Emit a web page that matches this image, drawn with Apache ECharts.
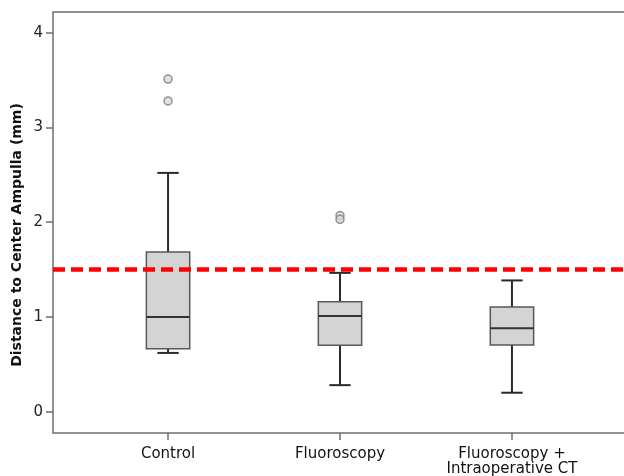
<!DOCTYPE html>
<html>
<head>
<meta charset="utf-8">
<script src="https://cdn.jsdelivr.net/npm/echarts@6/dist/echarts.min.js"></script>
<style>html,body{margin:0;padding:0;background:#fff}#c{width:624px;height:476px}</style>
</head>
<body>
<div id="c"></div>
<script>
// Data
const categories = ['Control', 'Fluoroscopy', 'Fluoroscopy +\nIntraoperative CT'];
const positions = [1, 2, 3];
// [min, Q1, median, Q3, max]
const boxMin = [0.62, 0.28, 0.20];
const boxQ1 = [0.665, 0.70, 0.705];
const boxMedian = [1.00, 1.01, 0.88];
const boxQ3 = [1.685, 1.16, 1.105];
const boxMax = [2.52, 1.465, 1.385];
const outliers = [[1, 3.51], [1, 3.28], [2, 2.07], [2, 2.03]];
const threshold = 1.5;
const yTicks = [0, 1, 2, 3, 4];
const yTitle = 'Distance to Center Ampulla (mm)';

const boxData = positions.map((p, i) => [p, boxMin[i], boxQ1[i], boxMedian[i], boxQ3[i], boxMax[i]]);

const chart = echarts.init(document.getElementById('c'));
const font = '"DejaVu Sans", "Noto Sans", sans-serif';

chart.setOption({
  animation: false,
  grid: { left: 53, top: 12, width: 574, height: 421, show: true, borderColor: '#6e6e6e', borderWidth: 1.5, backgroundColor: 'transparent', containLabel: false, outerBoundsMode: 'none' },
  graphic: [{
    type: 'text', x: 17, y: 235, rotation: Math.PI / 2,
    style: { text: yTitle, fontFamily: font, fontSize: 14, fontWeight: 'bold', fill: '#111', align: 'center', verticalAlign: 'middle' }
  }],
  xAxis: {
    type: 'value', min: 0.331, max: 3.669,
    splitLine: { show: false },
    axisLine: { show: false, onZero: false },
    axisTick: { show: true, inside: false, length: 7, lineStyle: { color: '#6e6e6e', width: 1.5 }, customValues: positions },
    axisLabel: {
      customValues: positions, margin: 14, color: '#111', fontFamily: font, fontSize: 15, lineHeight: 15,
      formatter: v => categories[positions.indexOf(Math.round(v))] || ''
    }
  },
  yAxis: {
    type: 'value', min: -0.225, max: 4.218,
    splitLine: { show: false },
    axisLine: { show: false, onZero: false },
    axisTick: { show: true, length: 7, lineStyle: { color: '#6e6e6e', width: 1.5 }, customValues: yTicks },
    axisLabel: { customValues: yTicks, margin: 10, color: '#222', fontFamily: font, fontSize: 15 }
  },
  series: [
    {
      type: 'custom',
      data: boxData,
      renderItem: function (params, api) {
        const x = api.value(0);
        const mn = api.coord([x, api.value(1)]);
        const q1 = api.coord([x, api.value(2)]);
        const md = api.coord([x, api.value(3)]);
        const q3 = api.coord([x, api.value(4)]);
        const mx = api.coord([x, api.value(5)]);
        const bl = api.coord([x - 0.126, 0])[0];
        const br = api.coord([x + 0.126, 0])[0];
        const cl = api.coord([x - 0.062, 0])[0];
        const cr = api.coord([x + 0.062, 0])[0];
        const cx = mn[0];
        const wStyle = { stroke: '#2a2a2a', lineWidth: 2 };
        return {
          type: 'group',
          children: [
            { type: 'line', shape: { x1: cx, y1: q3[1], x2: cx, y2: mx[1] }, style: wStyle },
            { type: 'line', shape: { x1: cx, y1: mn[1], x2: cx, y2: q1[1] }, style: wStyle },
            { type: 'line', shape: { x1: cl, y1: mx[1], x2: cr, y2: mx[1] }, style: wStyle },
            { type: 'line', shape: { x1: cl, y1: mn[1], x2: cr, y2: mn[1] }, style: wStyle },
            { type: 'rect', shape: { x: bl, y: q3[1], width: br - bl, height: q1[1] - q3[1] }, style: { fill: '#d4d4d4', stroke: '#585858', lineWidth: 1.5 } },
            { type: 'line', shape: { x1: bl, y1: md[1], x2: br, y2: md[1] }, style: { stroke: '#333', lineWidth: 2 } }
          ]
        };
      },
      z: 2
    },
    {
      type: 'scatter',
      data: outliers,
      symbol: 'circle', symbolSize: 8,
      itemStyle: { color: '#d8d8d8', borderColor: '#7a7a7a', borderWidth: 1.5 },
      z: 3
    },
    {
      type: 'line',
      data: [],
      markLine: {
        silent: true, symbol: 'none', label: { show: false },
        lineStyle: { color: '#ff0000', width: 4.5, type: [12, 6] },
        data: [{ yAxis: threshold }]
      },
      z: 4
    }
  ]
});
</script>
</body>
</html>
